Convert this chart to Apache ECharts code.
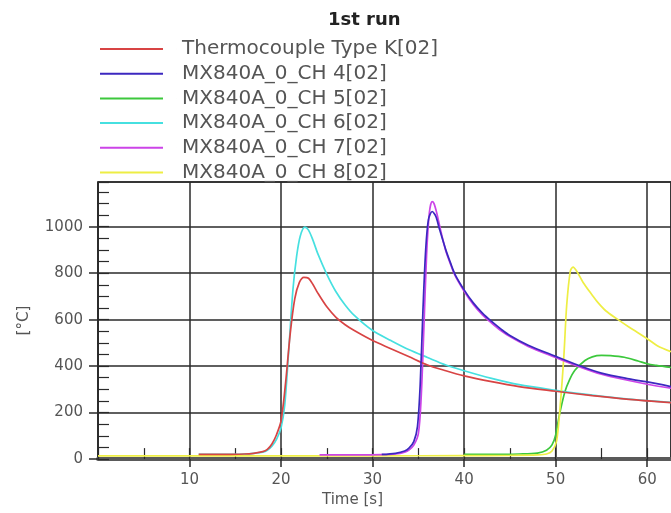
<!DOCTYPE html>
<html>
<head>
<meta charset="utf-8">
<title>1st run</title>
<script src="https://cdn.jsdelivr.net/npm/echarts@6/dist/echarts.min.js"></script>
<style>
  html, body { margin: 0; padding: 0; background: #fff; }
  #chart { width: 671px; height: 513px; }
</style>
</head>
<body>
<div id="chart"></div>
<script>
// series names (legend order)
var names = [
  "Thermocouple Type K[02]",
  "MX840A_0_CH 4[02]",
  "MX840A_0_CH 5[02]",
  "MX840A_0_CH 6[02]",
  "MX840A_0_CH 7[02]",
  "MX840A_0_CH 8[02]"
];
var colors = ["#d84444", "#3c28c0", "#3cc83c", "#46e0e0", "#cc44e8", "#eeee44"];
// drawing order: red over cyan, blue over magenta
var zOrder = [5, 6, 3, 3, 4, 3];

// time [s] / temperature [°C]
var tTypeK = [11, 14, 16, 17, 18, 18.5, 19, 19.5, 20, 20.5, 21, 21.5, 22, 22.5, 23, 23.5, 24, 25, 26, 27, 28, 30, 32, 34, 36, 38, 40, 43, 46, 50, 54, 58, 62.6];
var vTypeK = [20, 20, 22, 25, 32, 42, 65, 105, 165, 330, 540, 690, 760, 782, 778, 750, 715, 655, 610, 578, 553, 510, 475, 440, 405, 380, 358, 333, 312, 292, 273, 257, 243];

var tCh4 = [31, 32.5, 33.5, 34, 34.5, 34.9, 35.2, 35.5, 35.8, 36.1, 36.5, 36.9, 37.3, 38, 38.5, 39, 40, 41, 42, 43, 44, 45, 47, 50, 52.4, 55, 58, 60, 62.6];
var vCh4 = [20, 25, 35, 48, 75, 140, 320, 640, 900, 1030, 1065, 1045, 990, 900, 845, 795, 728, 672, 628, 592, 560, 532, 490, 442, 405, 370, 345, 332, 312];

var tCh5 = [40, 43.4, 46, 48, 49, 49.6, 50, 50.4, 51, 51.5, 52.1, 53.2, 54, 55, 56, 57.5, 59, 60, 61, 62.6];
var vCh5 = [20, 20, 22, 26, 38, 61, 104, 189, 289, 340, 382, 424, 440, 446, 445, 438, 422, 410, 403, 394];

var tCh6 = [11, 14, 16, 17, 18, 18.5, 19, 19.5, 20, 20.4, 20.8, 21.3, 21.7, 22.1, 22.6, 23, 23.5, 24, 25, 26, 27, 28, 30, 32, 34, 36, 38, 40, 43, 46, 50, 54, 58, 62.6];
var vCh6 = [20, 20, 22, 25, 30, 38, 55, 85, 135, 232, 446, 730, 873, 960, 998, 985, 940, 885, 795, 720, 663, 618, 553, 510, 470, 437, 405, 380, 347, 320, 296, 275, 258, 244];

var tCh7 = [24.2, 28, 31, 32.5, 33.5, 34, 34.5, 35, 35.3, 35.6, 35.9, 36.2, 36.5, 36.7, 37, 37.4, 38, 38.5, 39, 40, 41, 42, 43, 44, 45, 47, 50, 52.4, 55, 58, 60, 62.6];
var vCh7 = [18, 18, 19, 22, 30, 40, 60, 110, 260, 560, 880, 1060, 1108, 1100, 1060, 990, 895, 840, 790, 722, 665, 620, 585, 553, 527, 485, 437, 400, 365, 338, 322, 305];

var tCh8 = [0, 10, 20, 30, 40, 45, 48, 49, 49.6, 50.1, 50.5, 50.9, 51.2, 51.6, 51.9, 52.4, 53, 54, 54.6, 55.5, 56.7, 58, 58.9, 60, 61.1, 62.6];
var vCh8 = [14, 14, 14, 14, 15, 16, 18, 22, 35, 77, 232, 446, 659, 809, 826, 802, 760, 705, 674, 637, 603, 568, 546, 518, 488, 462];

var times = [tTypeK, tCh4, tCh5, tCh6, tCh7, tCh8];
var values = [vTypeK, vCh4, vCh5, vCh6, vCh7, vCh8];

// axis ranges
var xMax = 62.6;
var yMax = 1192;

var font = "DejaVu Sans";
var gridColor = "#2a2a2a";

function pairs(t, v) {
  var out = [];
  for (var i = 0; i < t.length; i++) {
    out.push([t[i], v[i]]);
  }
  return out;
}

var series = [];
for (var i = 0; i < names.length; i++) {
  series.push({
    name: names[i],
    type: "line",
    xAxisIndex: 0,
    yAxisIndex: 0,
    data: pairs(times[i], values[i]),
    showSymbol: false,
    smooth: 0.3,
    color: colors[i],
    lineStyle: { color: colors[i], width: 1.7 },
    z: zOrder[i]
  });
}

var myChart = echarts.init(document.getElementById("chart"));
myChart.setOption({
  backgroundColor: "#fff",
  animation: false,
  title: {
    text: "1st run",
    left: 328,
    top: 11,
    padding: 0,
    textStyle: { fontFamily: font, fontWeight: "bold", fontSize: 18, color: "#222" }
  },
  legend: {
    orient: "vertical",
    left: 100,
    top: 37,
    padding: 0,
    itemGap: 0.7,
    itemWidth: 77,
    itemHeight: 2,
    // line of 63px, text starts 19px after it
    icon: "path://M0,0H63V2H0Z M77,0H77.01V2H77Z",
    textStyle: { fontFamily: font, fontSize: 20, color: "#555", lineHeight: 24 },
    data: names
  },
  grid: {
    left: 98,
    right: -2,
    top: 182,
    bottom: 52,
    show: true,
    borderColor: gridColor,
    borderWidth: 1.5
  },
  xAxis: [
    {
      type: "value",
      min: 0,
      max: xMax,
      interval: 10,
      offset: 2,
      name: "Time [s]",
      nameLocation: "middle",
      nameGap: 28,
      nameTextStyle: { fontFamily: font, fontSize: 15, color: "#555", padding: [0, 64, 0, 0] },
      axisLine: { show: true, lineStyle: { color: "#5a5a5a", width: 4 } },
      axisTick: { show: true, length: 8, lineStyle: { color: gridColor, width: 1.5 } },
      axisLabel: {
        margin: 12,
        showMinLabel: false,
        showMaxLabel: false,
        fontFamily: font,
        fontSize: 15,
        color: "#555"
      },
      splitLine: { show: true, lineStyle: { color: gridColor, width: 1.5 } }
    },
    {
      // small ticks every 5 s
      type: "value",
      position: "bottom",
      min: 0,
      max: xMax,
      interval: 5,
      axisLine: { show: false },
      axisTick: { show: true, inside: true, length: 11, lineStyle: { color: gridColor, width: 1.2 } },
      axisLabel: { show: false },
      splitLine: { show: false }
    }
  ],
  yAxis: [
    {
      type: "value",
      min: 0,
      max: yMax,
      interval: 200,
      name: "[°C]",
      nameLocation: "middle",
      nameRotate: 90,
      nameGap: 66,
      nameTextStyle: { fontFamily: font, fontSize: 15, color: "#555" },
      axisLine: { show: true, lineStyle: { color: gridColor, width: 1.5 } },
      axisTick: { show: true, length: 9, lineStyle: { color: gridColor, width: 1.5 } },
      axisLabel: {
        margin: 15,
        showMaxLabel: false,
        formatter: function (v) { return String(v); },
        fontFamily: font,
        fontSize: 15,
        color: "#555"
      },
      splitLine: { show: true, lineStyle: { color: gridColor, width: 1.5 } }
    },
    {
      // small ticks every 50 °C
      type: "value",
      position: "left",
      min: 0,
      max: yMax,
      interval: 50,
      axisLine: { show: false },
      axisTick: { show: true, inside: true, length: 11, lineStyle: { color: gridColor, width: 1.2 } },
      axisLabel: { show: false },
      splitLine: { show: false }
    }
  ],
  series: series
});
</script>
</body>
</html>
